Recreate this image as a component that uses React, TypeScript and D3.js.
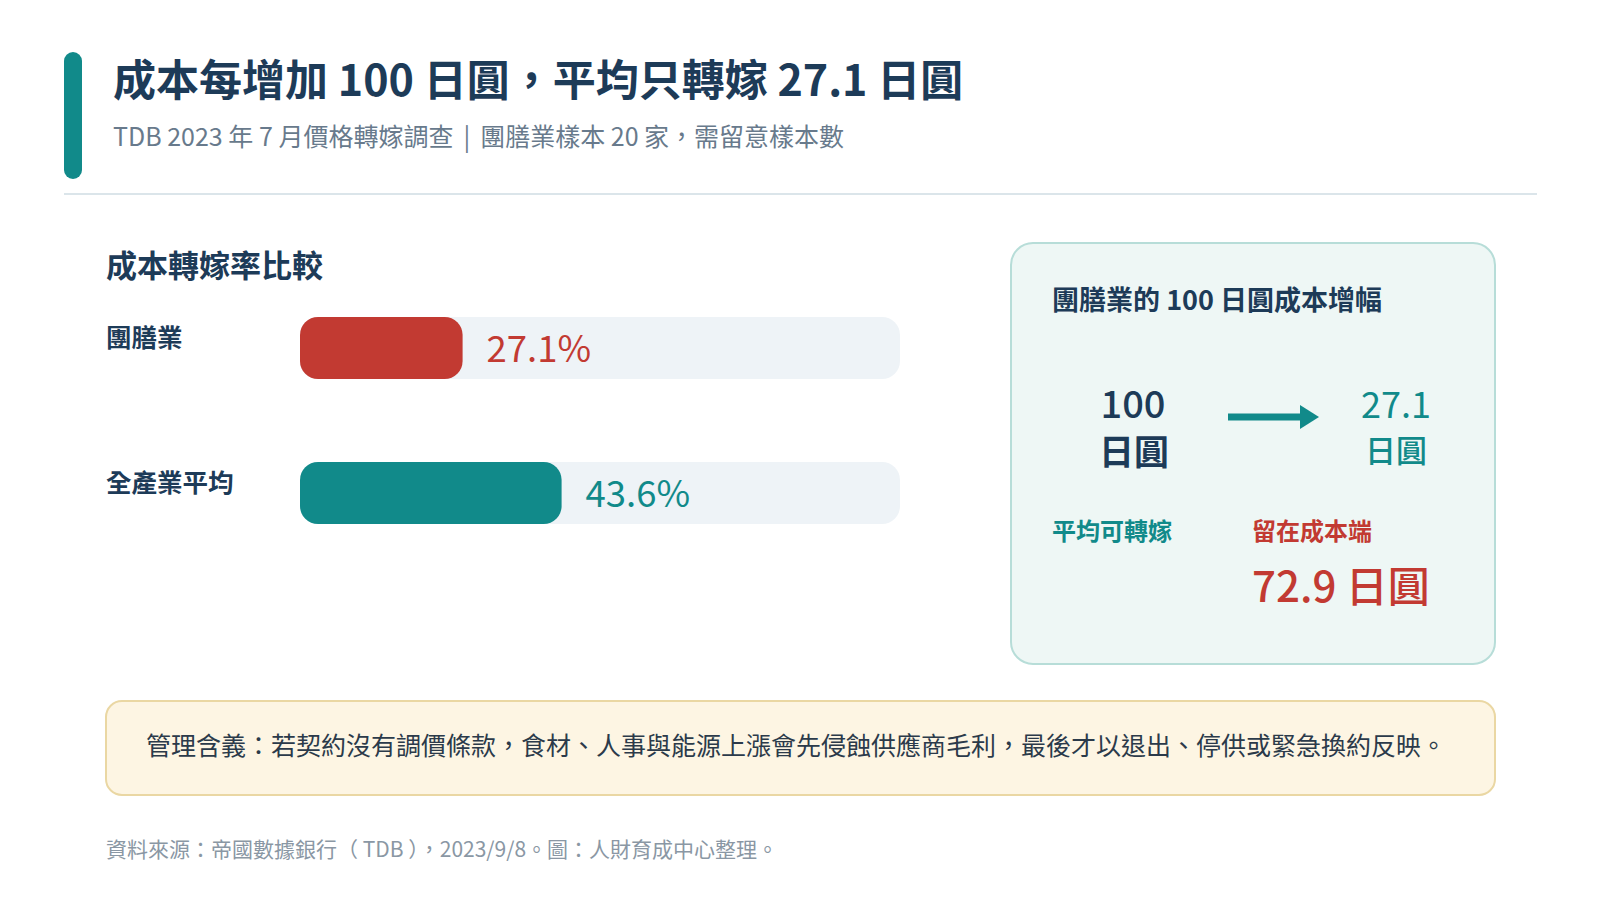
import React from "react";
import * as d3 from "d3";

const titleText = "成本每增加 100 日圓，平均只轉嫁 27.1 日圓";
const subtitleLeft = "TDB 2023 年 7 月價格轉嫁調查";
const subtitleSep = "|";
const subtitleRight = "團膳業樣本 20 家，需留意樣本數";
const sectionTitle = "成本轉嫁率比較";
const categories = ["團膳業", "全產業平均"];
const passRates = [27.1, 43.6];
const barColors = ["#c23a32", "#118a8a"];
const cardTitle = "團膳業的 100 日圓成本增幅";
const costIncrease = 100;
const passedAmount = 27.1;
const retainedAmount = 72.9;
const unitLabel = "日圓";
const passedLabel = "平均可轉嫁";
const retainedLabel = "留在成本端";
const noteText = "管理含義：若契約沒有調價條款，食材、人事與能源上漲會先侵蝕供應商毛利，最後才以退出、停供或緊急換約反映。";
const sourceText = "資料來源：帝國數據銀行（ TDB ），2023/9/8。圖：人財育成中心整理。";

const FONT = '"Noto Sans CJK TC", "Noto Sans", sans-serif';
const NAVY = "#1d3b58";
const TEAL = "#118a8a";
const RED = "#c23a32";

export default function App() {
  const W = 1600;
  const H = 900;
  const trackX = 300;
  const trackW = 600;
  const barH = 62;
  const x = d3.scaleLinear().domain([0, 100]).range([0, trackW]);
  const y = d3
    .scalePoint<string>()
    .domain(categories)
    .range([348, 493]);

  const arrowLine = d3.line()([
    [1228, 417],
    [1302, 417],
  ]);
  const arrowHead = d3.line()([
    [1300, 405],
    [1319, 417],
    [1300, 429],
  ]) + "Z";

  return (
    <svg
      width={W}
      height={H}
      viewBox={`0 0 ${W} ${H}`}
      style={{ position: "absolute", left: 0, top: 0, background: "#fff", fontFamily: FONT }}
    >
      <rect x={0} y={0} width={W} height={H} fill="#ffffff" />
      {/* header */}
      <rect x={64} y={52} width={18} height={127} rx={9} fill={TEAL} />
      <text x={113} y={96} fontSize={43} fontWeight={700} fill={NAVY}>
        {titleText}
      </text>
      <text x={113} y={146} fontSize={25} fontWeight={400} fill="#687a8c">
        <tspan>{subtitleLeft}</tspan>
        <tspan dx={10}>{subtitleSep}</tspan>
        <tspan dx={10}>{subtitleRight}</tspan>
      </text>
      <line x1={64} x2={1537} y1={194} y2={194} stroke="#dbe5ea" strokeWidth={2} />

      {/* bar section */}
      <text x={106} y={277} fontSize={31} fontWeight={700} fill={NAVY}>
        {sectionTitle}
      </text>
      {categories.map((c, i) => {
        const cy = y(c)!;
        return (
          <g key={c}>
            <text x={106} y={cy - 1} fontSize={25.5} fontWeight={700} fill={NAVY}>
              {c}
            </text>
            <rect x={trackX} y={cy - barH / 2} width={trackW} height={barH} rx={18} fill="#eef3f7" />
            <rect
              x={trackX}
              y={cy - barH / 2}
              width={x(passRates[i])}
              height={barH}
              rx={18}
              fill={barColors[i]}
            />
            <text
              x={trackX + x(passRates[i]) + 24}
              y={cy + 14}
              fontSize={36.5}
              fontWeight={400}
              fill={barColors[i]}
            >
              {`${passRates[i].toFixed(1)}%`}
            </text>
          </g>
        );
      })}

      {/* card */}
      <rect x={1011} y={243} width={484} height={421} rx={22} fill="#eef7f5" stroke="#b7ddd8" strokeWidth={2} />
      <text x={1052} y={310} fontSize={27} fontWeight={700} fill={NAVY}>
        {cardTitle}
      </text>
      <text x={1133} y={418} fontSize={38} fontWeight={500} fill={NAVY} textAnchor="middle">
        {costIncrease}
      </text>
      <text x={1134} y={465} fontSize={35} fontWeight={600} fill={NAVY} textAnchor="middle">
        {unitLabel}
      </text>
      <path d={arrowLine!} stroke={TEAL} strokeWidth={7} fill="none" />
      <path d={arrowHead} fill={TEAL} />
      <text x={1396} y={418} fontSize={36} fontWeight={400} fill={TEAL} textAnchor="middle">
        {passedAmount.toFixed(1)}
      </text>
      <text x={1396} y={462} fontSize={31} fontWeight={500} fill={TEAL} textAnchor="middle">
        {unitLabel}
      </text>
      <text x={1052} y={540} fontSize={24} fontWeight={700} fill={TEAL}>
        {passedLabel}
      </text>
      <text x={1252} y={540} fontSize={24} fontWeight={700} fill={RED}>
        {retainedLabel}
      </text>
      <text x={1252} y={602} fontSize={42} fontWeight={500} fill={RED}>
        {`${retainedAmount.toFixed(1)} ${unitLabel}`}
      </text>

      {/* note */}
      <rect x={106} y={701} width={1389} height={94} rx={16} fill="#fdf5e3" stroke="#ead7a3" strokeWidth={2} />
      <text x={146} y={755} fontSize={25} fontWeight={400} fill="#2b3a4a">
        {noteText}
      </text>

      {/* source */}
      <text x={106} y={857} fontSize={21} fontWeight={400} fill="#8a97a4" style={{ whiteSpace: "pre" }}>
        {sourceText}
      </text>
    </svg>
  );
}
